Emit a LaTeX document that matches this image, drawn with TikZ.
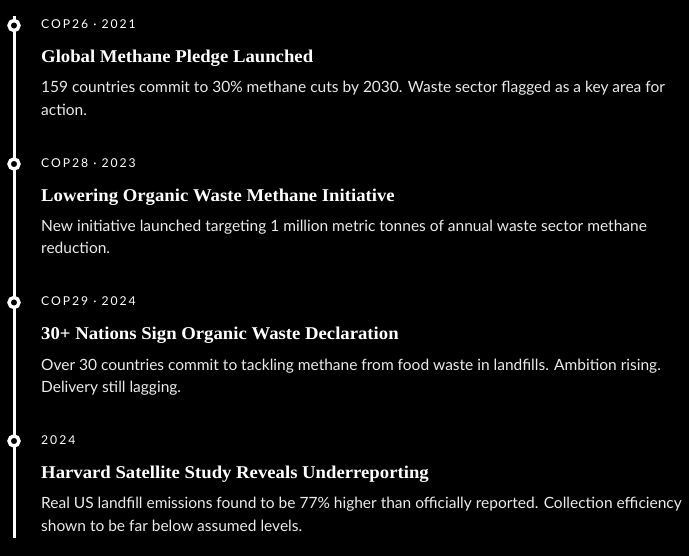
\documentclass[tikz,border=0pt]{standalone}
\usepackage{fontspec}
\setmainfont{Lato}
\newfontfamily\bodyfont{Lato}
\newfontfamily\titlefont{Liberation Serif}[FakeStretch=1.04]
\newfontfamily\labelfont{Lato}[LetterSpace=16]
\begin{document}
\begin{tikzpicture}[x=1pt,y=-1pt,
  lbl/.style={anchor=base west, inner sep=0pt, text=white, font=\labelfont\fontsize{12.2}{14}\selectfont},
  ttl/.style={anchor=base west, inner sep=0pt, text=white, font=\titlefont\bfseries\fontsize{18}{20}\selectfont},
  body/.style={anchor=base west, inner sep=0pt, text=white!92!black, align=left, font=\bodyfont\fontsize{15.5}{22.5}\selectfont},
  dot/.style={circle, draw=white, line width=3.4pt, fill=black, minimum size=10pt, inner sep=0pt},
  rail/.style={draw=white, line width=3pt}]
\fill[black] (0,0) rectangle (689,556);
\useasboundingbox (0,0) rectangle (689,556);
\coordinate (top) at (14,16);
\coordinate (bot) at (14,538);
\draw[rail] (top) -- (bot);
% item 1 (body node anchored on the baseline of its last line)
\node[dot] (d1) at (14,25.5) {};
\node[lbl] (l1) at (41,29) {COP26 · 2021};
\node[ttl] (t1) at (41,63) {Global Methane Pledge Launched};
\node[body] (b1) at (41,115.5) {159 countries commit to 30\% methane cuts by 2030. Waste sector flagged as a key area for\\action.};
% item 2
\node[dot] (d2) at (14,164) {};
\node[lbl] (l2) at (41,167.5) {COP28 · 2023};
\node[ttl] (t2) at (41,201.5) {Lowering Organic Waste Methane Initiative};
\node[body] (b2) at (41,254) {New initiative launched targeting 1 million metric tonnes of annual waste sector methane\\reduction.};
% item 3
\node[dot] (d3) at (14,302.5) {};
\node[lbl] (l3) at (41,306) {COP29 · 2024};
\node[ttl] (t3) at (41,340) {30+ Nations Sign Organic Waste Declaration};
\node[body] (b3) at (41,392.5) {Over 30 countries commit to tackling methane from food waste in landfills. Ambition rising.\\Delivery still lagging.};
% item 4
\node[dot] (d4) at (14,441) {};
\node[lbl] (l4) at (41,444.5) {2024};
\node[ttl] (t4) at (41,478.5) {Harvard Satellite Study Reveals Underreporting};
\node[body] (b4) at (41,531) {Real US landfill emissions found to be 77\% higher than officially reported. Collection efficiency\\shown to be far below assumed levels.};
\end{tikzpicture}
\end{document}
